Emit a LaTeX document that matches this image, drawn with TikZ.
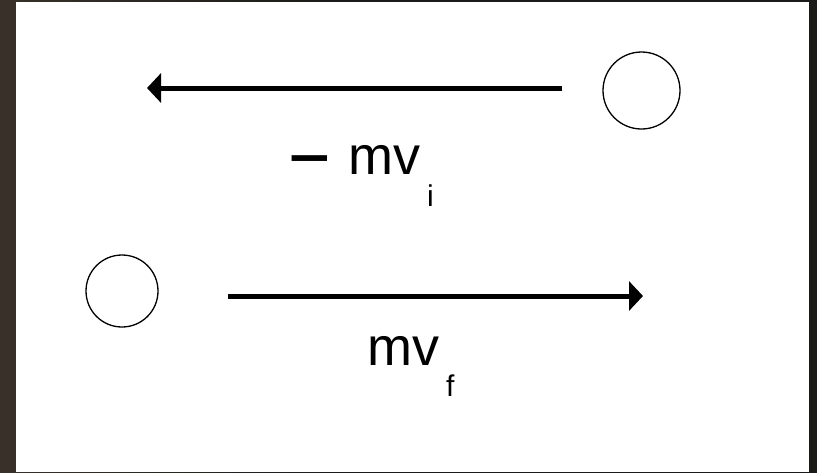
\documentclass[tikz,border=0pt]{standalone}
\usepackage{fontspec}
\setmainfont{Liberation Sans}
\usetikzlibrary{arrows.meta}
\definecolor{bgbrown}{HTML}{5A4A3C}
\definecolor{bgdark}{HTML}{1B1B19}
\pgfdeclarehorizontalshading{bgshade}{100bp}{color(0bp)=(bgbrown); color(15bp)=(bgbrown!70!bgdark); color(45bp)=(bgdark); color(100bp)=(bgdark)}
\tikzset{
  ball/.style={circle, draw=black, line width=1.3pt, inner sep=0pt, fill=white},
  vec/.style={line width=5pt, -{Triangle[length=14pt,width=29pt]}},
  bigtxt/.style={font=\fontsize{54}{60}\selectfont, inner sep=0pt, anchor=base west},
  subtxt/.style={font=\fontsize{30}{34}\selectfont, inner sep=0pt, anchor=base west}
}
\begin{document}
\begin{tikzpicture}[x=1pt,y=-1pt]
\useasboundingbox (0,0) rectangle (817,472);
\shade[shading=bgshade] (0,0) rectangle (817,472);
\fill[white] (16,2) rectangle (809,472);
% top row
\node[ball, minimum size=77pt] (b1) at (641.5,90.5) {};
\coordinate (a1s) at (562,88);
\coordinate (a1e) at (147,88);
\draw[vec] (a1s) -- (a1e);
\node[bigtxt] (t1) at (288,174) {\raisebox{-11pt}{\scalebox{1.35}[1.5]{−}}\hspace{18pt}mv};
\node[subtxt] (s1) at (427,206) {i};
% bottom row
\node[ball, minimum size=72pt] (b2) at (122,291) {};
\coordinate (a2s) at (228,296);
\coordinate (a2e) at (643,296);
\draw[vec] (a2s) -- (a2e);
\node[bigtxt] (t2) at (367,365) {mv};
\node[subtxt] (s2) at (446,396) {f};
\end{tikzpicture}
\end{document}
